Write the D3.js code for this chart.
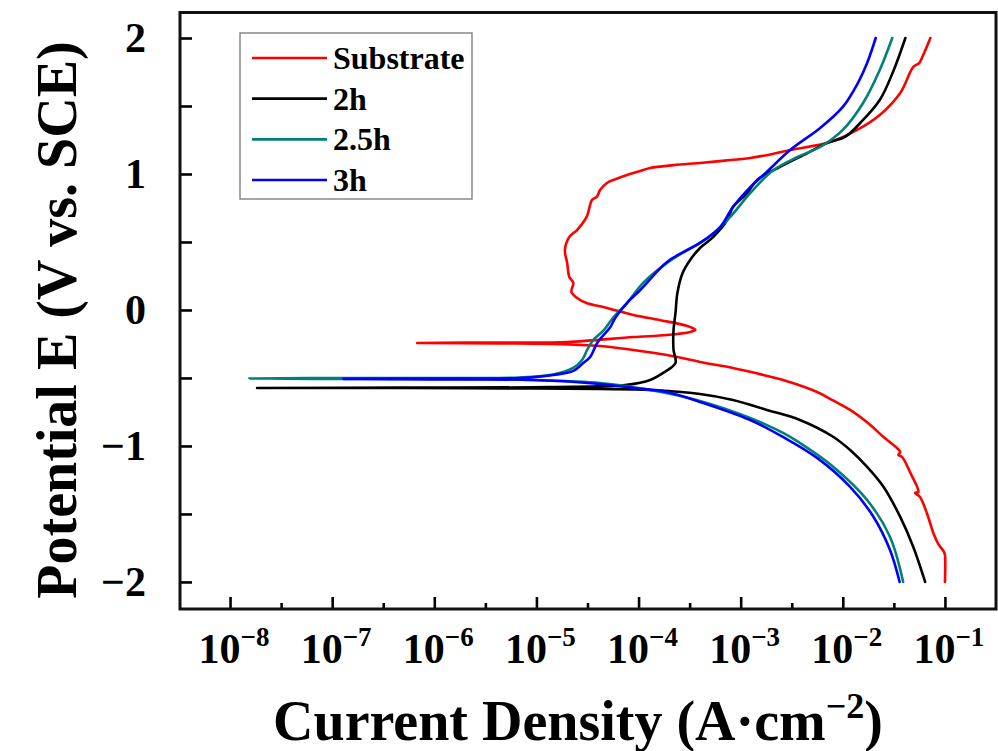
<!DOCTYPE html>
<html>
<head>
<meta charset="utf-8">
<script src="https://cdn.jsdelivr.net/npm/d3@7"></script>
<style>
  body { margin: 0; background: #fff; }
  svg { display: block; background: #fff; }
  text { font-family: "Liberation Serif", "Times New Roman", serif; font-weight: bold; fill: #000; }
</style>
</head>
<body>
<svg id="chart" width="998" height="751"></svg>
<script>
// Potentiodynamic polarization curves: [current density (A/cm2), potential (V vs. SCE)]
// Each series is listed in sweep order: cathodic branch up to Ecorr, then the anodic branch.
const seriesNames = ["Substrate", "2h", "2.5h", "3h"];
const seriesColors = ["#ff0000", "#000000", "#00807a", "#0000ff"];

const substrate = [
  [1.0e-1, -2.0], [1.0e-1, -1.80], [9.8e-2, -1.78], [8.6e-2, -1.72], [7.7e-2, -1.64],
  [6.7e-2, -1.50], [5.7e-2, -1.375], [5.1e-2, -1.345], [5.5e-2, -1.34], [4.6e-2, -1.20],
  [3.8e-2, -1.08], [3.5e-2, -1.066], [3.65e-2, -1.044], [3.1e-2, -0.99], [2.5e-2, -0.934],
  [1.86e-2, -0.846], [1.18e-2, -0.735], [8.0e-3, -0.665], [5.6e-3, -0.603], [2.6e-3, -0.515],
  [1.5e-3, -0.47], [8.4e-4, -0.426], [4.0e-4, -0.382], [1.9e-4, -0.331], [8.9e-5, -0.294],
  [4.2e-5, -0.265], [1.36e-5, -0.25], [4.4e-6, -0.246], [6.8e-7, -0.243],
  [4.4e-6, -0.239], [2.0e-5, -0.235], [8.9e-5, -0.199], [1.9e-4, -0.184], [3.2e-4, -0.162],
  [3.6e-4, -0.147], [3.0e-4, -0.118], [1.6e-4, -0.074], [8.9e-5, -0.037], [4.9e-5, 0.015],
  [3.1e-5, 0.051], [2.5e-5, 0.088], [2.2e-5, 0.132], [2.3e-5, 0.199], [2.1e-5, 0.243],
  [2.0e-5, 0.346], [1.9e-5, 0.441], [2.1e-5, 0.537], [2.5e-5, 0.588], [3.1e-5, 0.684],
  [3.5e-5, 0.809], [3.9e-5, 0.831], [4.2e-5, 0.882], [4.9e-5, 0.934], [6.1e-5, 0.965],
  [7.7e-5, 0.993], [1.0e-4, 1.018], [1.3e-4, 1.044], [2.2e-4, 1.065], [4.0e-4, 1.081],
  [7.0e-4, 1.098], [1.24e-3, 1.118], [2.0e-3, 1.145], [3.05e-3, 1.176], [7.5e-3, 1.235],
  [1.38e-2, 1.324], [2.3e-2, 1.434], [3.65e-2, 1.596], [4.9e-2, 1.787], [5.6e-2, 1.816],
  [6.0e-2, 1.86], [7.2e-2, 2.0]
];

const coating2h = [
  [6.4e-2, -2.0], [4.9e-2, -1.743], [3.65e-2, -1.522], [2.5e-2, -1.30], [1.73e-2, -1.154],
  [1.18e-2, -1.03], [8.1e-3, -0.934], [3.8e-3, -0.809], [1.8e-3, -0.735], [8.4e-4, -0.662],
  [4.0e-4, -0.618], [1.3e-4, -0.588], [4.2e-5, -0.581], [4.4e-6, -0.577], [4.6e-7, -0.574],
  [1.84e-8, -0.574],
  [4.6e-7, -0.571], [1.36e-5, -0.567], [7.7e-5, -0.551], [1.3e-4, -0.515], [1.74e-4, -0.463],
  [2.3e-4, -0.39], [2.2e-4, -0.294], [2.2e-4, -0.147], [2.3e-4, -0.022], [2.4e-4, 0.125],
  [2.7e-4, 0.272], [3.2e-4, 0.368], [4.0e-4, 0.456], [5.4e-4, 0.537], [7.4e-4, 0.662],
  [8.4e-4, 0.757], [1.16e-3, 0.86], [1.45e-3, 0.956], [2.4e-3, 1.051], [4.5e-3, 1.154],
  [7.0e-3, 1.228], [1.05e-2, 1.272], [1.48e-2, 1.375], [2.3e-2, 1.544], [3.1e-2, 1.75],
  [4.1e-2, 2.0]
];

const coating25h = [
  [3.9e-2, -2.0], [2.9e-2, -1.669], [1.73e-2, -1.397], [8.1e-3, -1.154], [3.8e-3, -0.978],
  [2.6e-3, -0.904], [1.24e-3, -0.794], [4.0e-4, -0.669], [1.3e-4, -0.588], [4.2e-5, -0.537],
  [9.3e-6, -0.515], [1.43e-6, -0.507], [1.5e-7, -0.507], [1.54e-8, -0.504],
  [1.5e-7, -0.50], [1.43e-6, -0.50], [6.9e-6, -0.497], [1.46e-5, -0.475], [2.29e-5, -0.426],
  [2.8e-5, -0.368], [3.14e-5, -0.294], [3.6e-5, -0.221], [4.6e-5, -0.147], [5.6e-5, -0.059],
  [7.7e-5, 0.051], [1.11e-4, 0.199], [1.9e-4, 0.346], [3.0e-4, 0.441], [4.0e-4, 0.493],
  [5.6e-4, 0.574], [7.9e-4, 0.684], [1.24e-3, 0.86], [2.1e-3, 1.029], [3.6e-3, 1.125],
  [6.0e-3, 1.199], [1.0e-2, 1.324], [1.58e-2, 1.522], [2.3e-2, 1.765], [3.05e-2, 2.0]
];

const coating3h = [
  [3.6e-2, -2.0], [2.9e-2, -1.765], [2.0e-2, -1.522], [1.18e-2, -1.301], [5.6e-3, -1.088],
  [2.6e-3, -0.934], [1.24e-3, -0.809], [4.0e-4, -0.676], [1.9e-4, -0.603], [8.9e-5, -0.574],
  [4.2e-5, -0.544], [9.3e-6, -0.515], [1.43e-6, -0.511], [1.28e-7, -0.507],
  [1.43e-6, -0.504], [6.9e-6, -0.50], [1.46e-5, -0.478], [2.3e-5, -0.448], [2.87e-5, -0.39],
  [3.36e-5, -0.346], [3.93e-5, -0.243], [4.6e-5, -0.18], [5.3e-5, -0.125], [5.9e-5, -0.059],
  [7.7e-5, 0.051], [1.04e-4, 0.147], [1.9e-4, 0.353], [3.0e-4, 0.441], [4.0e-4, 0.493],
  [6.3e-4, 0.61], [8.4e-4, 0.757], [1.24e-3, 0.904], [1.8e-3, 1.015], [3.05e-3, 1.176],
  [6.0e-3, 1.338], [1.0e-2, 1.493], [1.42e-2, 1.676], [1.73e-2, 1.816], [2.1e-2, 2.0]
];

const seriesData = [substrate, coating2h, coating25h, coating3h];

// Axis ticks
const xMajorExponents = [-8, -7, -6, -5, -4, -3, -2, -1];
const xMinorExponents = [-7.5, -6.5, -5.5, -4.5, -3.5, -2.5, -1.5];
const yTickValues = [-2, -1.5, -1, -0.5, 0, 0.5, 1, 1.5, 2];
const yLabelValues = [-2, -1, 0, 1, 2];

const xTitle = "Current Density (A·cm";
const xTitleSup = "−2";
const yTitle = "Potential E (V vs. SCE)";

// Layout
const plot = { left: 180, right: 996, top: 12.5, bottom: 609 };

const svg = d3.select("#chart");

const x = d3.scaleLog()
  .domain([Math.pow(10, -8.49), Math.pow(10, -0.5)])
  .range([plot.left, plot.right]);
const y = d3.scaleLinear()
  .domain([-2.199, 2.1875])
  .range([plot.bottom, plot.top]);

// Curves
const line = d3.line()
  .x(d => x(d[0]))
  .y(d => y(d[1]))
  .curve(d3.curveCatmullRom.alpha(0.5));

svg.append("g")
  .selectAll("path")
  .data(seriesData)
  .join("path")
  .attr("d", line)
  .attr("fill", "none")
  .attr("stroke", (d, i) => seriesColors[i])
  .attr("stroke-width", 2.6)
  .attr("stroke-linejoin", "round")
  .attr("stroke-linecap", "round");

// Bottom axis: inward major and minor ticks
const xMajor = d3.axisBottom(x)
  .tickValues(xMajorExponents.map(e => Math.pow(10, e)))
  .tickSize(-12)
  .tickFormat("");
const xMinor = d3.axisBottom(x)
  .tickValues(xMinorExponents.map(e => Math.pow(10, e)))
  .tickSize(-6)
  .tickFormat("");

[xMajor, xMinor].forEach(ax => {
  svg.append("g")
    .attr("transform", `translate(0,${plot.bottom})`)
    .call(ax)
    .call(g => g.select(".domain").remove())
    .call(g => g.selectAll("line").attr("stroke", "#000").attr("stroke-width", 2.6));
});

// Bottom axis labels with superscript exponents
const xLabels = svg.append("g")
  .selectAll("text")
  .data(xMajorExponents)
  .join("text")
  .attr("x", e => x(Math.pow(10, e)) + 4)
  .attr("y", 663)
  .attr("text-anchor", "middle");
xLabels.append("tspan").attr("font-size", 42).text("10");
xLabels.append("tspan")
  .attr("font-size", 27)
  .attr("dy", -17)
  .text(e => d3.format("d")(e));

// Left axis
const yAxis = d3.axisLeft(y)
  .tickValues(yTickValues)
  .tickSize(-12)
  .tickPadding(34)
  .tickFormat(d => yLabelValues.includes(d) ? d3.format("d")(d) : "");

svg.append("g")
  .attr("transform", `translate(${plot.left},0)`)
  .call(yAxis)
  .call(g => g.select(".domain").remove())
  .call(g => g.selectAll("line").attr("stroke", "#000").attr("stroke-width", 2.6))
  .call(g => g.selectAll("text")
    .attr("font-family", "'Liberation Serif', 'Times New Roman', serif")
    .attr("font-weight", "bold")
    .attr("font-size", 42)
    .attr("fill", "#000"));

// Plot frame
svg.append("rect")
  .attr("x", plot.left)
  .attr("y", plot.top)
  .attr("width", plot.right - plot.left)
  .attr("height", plot.bottom - plot.top)
  .attr("fill", "none")
  .attr("stroke", "#111")
  .attr("stroke-width", 3);

// Axis titles
const xt = svg.append("text")
  .attr("x", 578)
  .attr("y", 740)
  .attr("text-anchor", "middle")
  .attr("font-size", 56);
xt.append("tspan").text(xTitle);
xt.append("tspan").attr("font-size", 36).attr("dy", -22).text(xTitleSup);
xt.append("tspan").attr("dy", 22).text(")");

svg.append("text")
  .attr("transform", "translate(76,320) rotate(-90)")
  .attr("text-anchor", "middle")
  .attr("font-size", 56)
  .text(yTitle);

// Legend
const legend = svg.append("g");
legend.append("rect")
  .attr("x", 240).attr("y", 33)
  .attr("width", 232).attr("height", 166)
  .attr("fill", "#fff")
  .attr("stroke", "#888")
  .attr("stroke-width", 1.5);

const rowY = d3.scalePoint().domain(seriesNames).range([58, 180]);
const rows = legend.selectAll("g.row")
  .data(seriesNames)
  .join("g")
  .attr("class", "row")
  .attr("transform", d => `translate(0,${rowY(d)})`);
rows.append("line")
  .attr("x1", 252).attr("x2", 327)
  .attr("stroke", (d, i) => seriesColors[i])
  .attr("stroke-width", 2.6);
rows.append("text")
  .attr("x", 333)
  .attr("y", 11)
  .attr("font-size", 32)
  .text(d => d);
</script>
</body>
</html>
